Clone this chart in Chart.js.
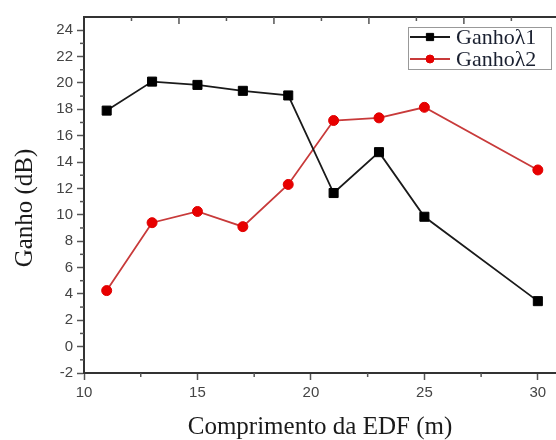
<!DOCTYPE html>
<html>
<head>
<meta charset="utf-8">
<script src="https://cdn.jsdelivr.net/npm/chart.js"></script>
<style>
  html, body { margin: 0; padding: 0; background: #fff; }
  #c { display: block; }
</style>
</head>
<body>
<canvas id="c" width="556" height="440"></canvas>
<script>
// comprimento da EDF (m)
const lengths = [11, 13, 15, 17, 19, 21, 23, 25, 30];
// ganho (dB)
const ganho1 = [17.9, 20.1, 19.85, 19.4, 19.05, 11.65, 14.75, 9.85, 3.45];
const ganho2 = [4.25, 9.4, 10.25, 9.1, 12.3, 17.15, 17.35, 18.15, 13.4];

const xTicks = [10, 15, 20, 25, 30];
const yTicks = [-2, 0, 2, 4, 6, 8, 10, 12, 14, 16, 18, 20, 22, 24];

const serif = "'Liberation Serif', 'Times New Roman', serif";
const sans = "'Liberation Sans', Arial, sans-serif";
const axisColor = '#333';

// minor ticks, top spine, y title and the legend box
const framePlugin = {
  id: 'frame',
  afterDraw(chart) {
    const ctx = chart.ctx;
    const a = chart.chartArea;
    const xs = chart.scales.x;
    const ys = chart.scales.y;
    const top = chart.scales.xTop;
    ctx.save();
    ctx.strokeStyle = '#555';
    ctx.lineWidth = 1.5;

    // minor x ticks
    for (let v = 12.5; v < xs.max; v += 5) {
      const px = xs.getPixelForValue(v);
      ctx.beginPath();
      ctx.moveTo(px, a.bottom);
      ctx.lineTo(px, a.bottom + 4);
      ctx.stroke();
    }
    // minor y ticks
    for (let v = -1; v < ys.max; v += 2) {
      const py = ys.getPixelForValue(v);
      ctx.beginPath();
      ctx.moveTo(a.left, py);
      ctx.lineTo(a.left - 4, py);
      ctx.stroke();
    }

    // top spine with inward ticks
    ctx.strokeStyle = axisColor;
    ctx.lineWidth = 2;
    ctx.beginPath();
    ctx.moveTo(a.left, a.top);
    ctx.lineTo(a.right, a.top);
    ctx.stroke();
    ctx.strokeStyle = '#555';
    ctx.lineWidth = 1.5;
    for (let i = 1; i <= Math.floor(top.max); i++) {
      const px = top.getPixelForValue(i);
      const len = i % 2 === 0 ? 7 : 4;
      ctx.beginPath();
      ctx.moveTo(px, a.top);
      ctx.lineTo(px, a.top + len);
      ctx.stroke();
    }

    // y title (sits a bit below the middle in the original)
    ctx.save();
    ctx.translate(25, (a.top + a.bottom) / 2 + 13);
    ctx.rotate(-Math.PI / 2);
    ctx.font = '25px ' + serif;
    ctx.fillStyle = '#1a1a1a';
    ctx.textAlign = 'center';
    ctx.textBaseline = 'middle';
    ctx.fillText('Ganho (dB)', 0, 0);
    ctx.restore();

    // legend
    const rowH = 22;
    const boxW = 143, boxH = 42;
    const bx = a.right - 5 - boxW;
    const by = a.top + 10;
    ctx.fillStyle = '#fff';
    ctx.fillRect(bx, by, boxW, boxH);
    ctx.strokeStyle = '#999';
    ctx.lineWidth = 1;
    ctx.strokeRect(bx + 0.5, by + 0.5, boxW, boxH);

    ctx.font = '22px ' + serif;
    ctx.textBaseline = 'middle';
    chart.data.datasets.forEach((ds, i) => {
      const cy = by + 10 + i * rowH;
      ctx.strokeStyle = ds.borderColor;
      ctx.lineWidth = ds.borderWidth;
      ctx.beginPath();
      ctx.moveTo(bx + 2, cy);
      ctx.lineTo(bx + 42, cy);
      ctx.stroke();
      ctx.fillStyle = ds.pointBackgroundColor;
      ctx.strokeStyle = ds.pointBorderColor;
      ctx.lineWidth = 1;
      Chart.helpers.drawPoint(ctx, {
        pointStyle: ds.pointStyle,
        radius: ds.pointRadius * 0.8,
        rotation: 0,
        borderWidth: 1
      }, bx + 22, cy);
      ctx.fillStyle = '#1a2030';
      ctx.fillText(ds.label, bx + 48, cy + 1);
    });
    ctx.restore();
  }
};

const noPad = s => { s.paddingLeft = 0; s.paddingRight = 0; s.paddingTop = 0; s.paddingBottom = 0; };

new Chart(document.getElementById('c'), {
  type: 'line',
  data: {
    datasets: [
      {
        label: 'Ganho\u03bb1',
        data: lengths.map((x, i) => ({ x: x, y: ganho1[i] })),
        borderColor: '#1a1a1a',
        borderWidth: 1.8,
        pointStyle: 'rect',
        pointRadius: 6.4,
        pointBackgroundColor: '#000',
        pointBorderColor: '#000',
        pointBorderWidth: 1,
        tension: 0
      },
      {
        label: 'Ganho\u03bb2',
        data: lengths.map((x, i) => ({ x: x, y: ganho2[i] })),
        borderColor: '#c83a3a',
        borderWidth: 1.8,
        pointStyle: 'circle',
        pointRadius: 5,
        pointBackgroundColor: '#e80000',
        pointBorderColor: '#e00000',
        pointBorderWidth: 1,
        tension: 0
      }
    ]
  },
  options: {
    responsive: false,
    animation: false,
    devicePixelRatio: 1,
    layout: { autoPadding: false, padding: { top: 17, right: 0, left: 0, bottom: 0 } },
    plugins: {
      legend: { display: false },
      tooltip: { enabled: false }
    },
    scales: {
      x: {
        type: 'linear',
        min: 10,
        max: 30.8,
        afterBuildTicks: s => { s.ticks = xTicks.map(v => ({ value: v })); },
        afterFit: s => { s.height = 67; noPad(s); },
        grid: { drawOnChartArea: false, tickLength: 7, color: '#555', tickWidth: 1.5 },
        border: { color: axisColor, width: 2 },
        ticks: {
          padding: 4,
          color: '#444',
          font: { family: sans, size: 15 },
          maxRotation: 0
        },
        title: {
          display: true,
          text: 'Comprimento da EDF (m)',
          color: '#1a1a1a',
          font: { family: serif, size: 25, lineHeight: 1 },
          padding: { top: 0, bottom: 0 }
        }
      },
      xTop: {
        type: 'linear',
        position: 'top',
        display: false,
        min: 0,
        max: 9.94,
        afterFit: s => { s.height = 0; noPad(s); }
      },
      y: {
        type: 'linear',
        min: -2,
        max: 25,
        afterBuildTicks: s => { s.ticks = yTicks.map(v => ({ value: v })); },
        afterFit: s => { s.width = 84; noPad(s); },
        grid: { drawOnChartArea: false, tickLength: 7, color: '#555', tickWidth: 1.5 },
        border: { color: axisColor, width: 2 },
        ticks: {
          padding: 4,
          color: '#444',
          font: { family: sans, size: 15 }
        }
      }
    }
  },
  plugins: [framePlugin]
});
</script>
</body>
</html>
